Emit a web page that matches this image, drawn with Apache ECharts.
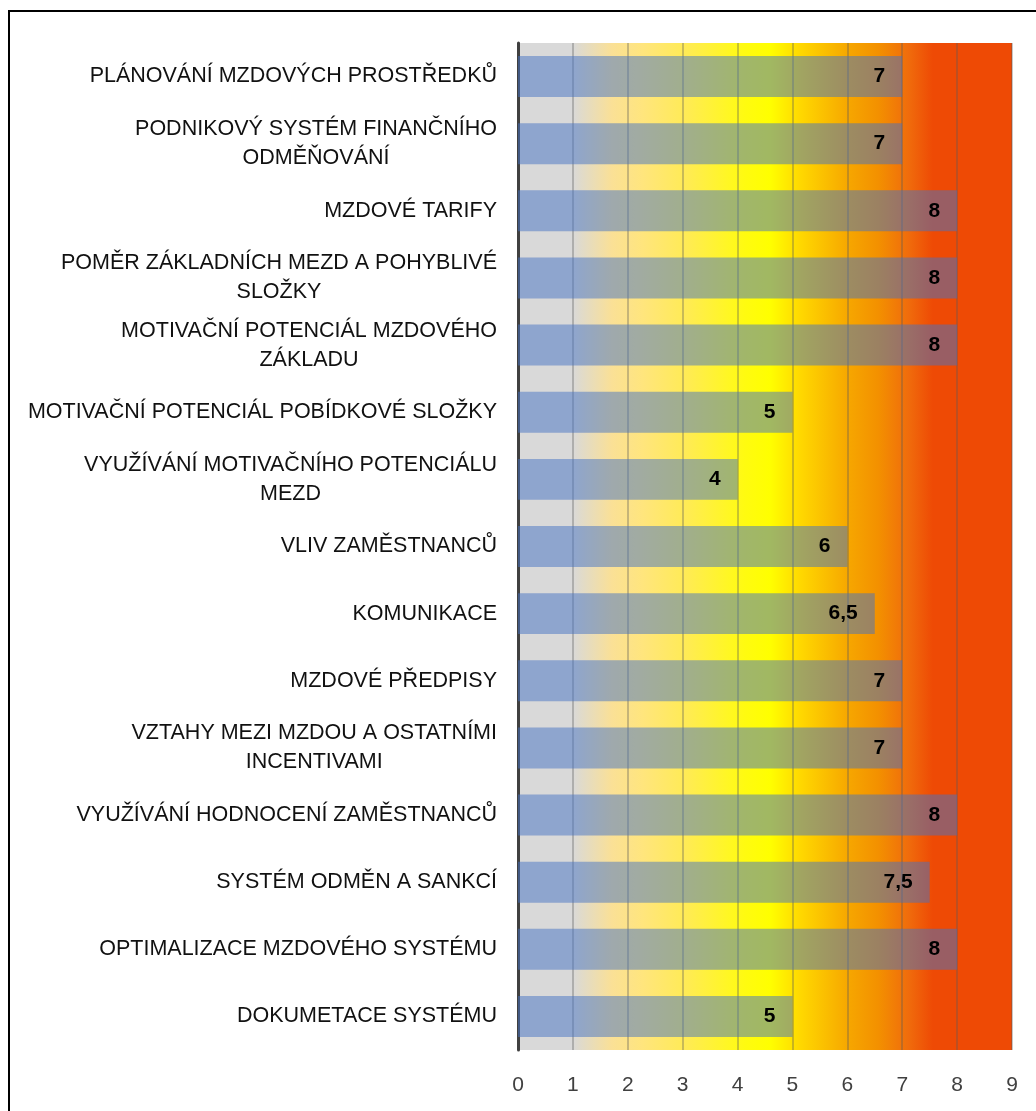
<!DOCTYPE html>
<html>
<head>
    <meta charset="utf-8">
    <script src="https://cdn.jsdelivr.net/npm/echarts@6/dist/echarts.min.js"></script>
    <style>
        body { margin: 0; background: #fff; }
    </style>
</head>
<body>
    <div id="main" style="width: 1036px;height:1111px;"></div>
    <script type="text/javascript">
        // kategorie (shora dolů)
        var categories = [
            'PLÁNOVÁNÍ MZDOVÝCH PROSTŘEDKŮ',
            'PODNIKOVÝ SYSTÉM FINANČNÍHO\nODMĚŇOVÁNÍ',
            'MZDOVÉ TARIFY',
            'POMĚR ZÁKLADNÍCH MEZD A POHYBLIVÉ\nSLOŽKY',
            'MOTIVAČNÍ POTENCIÁL MZDOVÉHO\nZÁKLADU',
            'MOTIVAČNÍ POTENCIÁL POBÍDKOVÉ SLOŽKY',
            'VYUŽÍVÁNÍ MOTIVAČNÍHO POTENCIÁLU\nMEZD',
            'VLIV ZAMĚSTNANCŮ',
            'KOMUNIKACE',
            'MZDOVÉ PŘEDPISY',
            'VZTAHY MEZI MZDOU A OSTATNÍMI\nINCENTIVAMI',
            'VYUŽÍVÁNÍ HODNOCENÍ ZAMĚSTNANCŮ',
            'SYSTÉM ODMĚN A SANKCÍ',
            'OPTIMALIZACE MZDOVÉHO SYSTÉMU',
            'DOKUMETACE SYSTÉMU'
        ];
        var hodnoty = [7, 7, 8, 8, 8, 5, 4, 6, 6.5, 7, 7, 8, 7.5, 8, 5];
        var osaX = [0, 1, 2, 3, 4, 5, 6, 7, 8, 9];

        var font = '"Liberation Sans", Arial, sans-serif';
        var myChart = echarts.init(document.getElementById('main'));

        myChart.setOption({
            animation: false,
            graphic: [{
                type: 'rect',
                shape: { x: 9, y: 11, width: 1100, height: 1200 },
                style: { fill: 'none', stroke: '#000', lineWidth: 2 },
                z: 100
            }],
            grid: {
                left: 518, right: 24, top: 43, bottom: 61,
                show: true,
                borderWidth: 0,
                backgroundColor: {
                    type: 'linear', x: 0, y: 0, x2: 1, y2: 0,
                    colorStops: [
                        { offset: 0, color: '#d9d9d9' },
                        { offset: 0.11, color: '#d9d9d9' },
                        { offset: 0.19, color: '#fae096' },
                        { offset: 0.25, color: '#ffe57e' },
                        { offset: 0.34, color: '#ffeb55' },
                        { offset: 0.46, color: '#fffb10' },
                        { offset: 0.51, color: '#ffff00' },
                        { offset: 0.57, color: '#ffd900' },
                        { offset: 0.67, color: '#f6a600' },
                        { offset: 0.73, color: '#f39000' },
                        { offset: 0.79, color: '#f06c0c' },
                        { offset: 0.84, color: '#ee4a05' },
                        { offset: 1, color: '#ee4a05' }
                    ]
                }
            },
            xAxis: {
                type: 'value',
                min: 0, max: 9, interval: 1,
                axisLine: { show: false },
                axisTick: { show: false },
                axisLabel: {
                    fontFamily: font, fontSize: 21, color: '#404040', margin: 25,
                    formatter: function (v) { return osaX.indexOf(v) >= 0 ? String(v) : ''; }
                },
                splitLine: { show: true, lineStyle: { color: 'rgba(90,90,90,0.45)', width: 1.5 } }
            },
            yAxis: {
                type: 'category',
                inverse: true,
                data: categories,
                axisLine: { show: true, lineStyle: { color: '#404040', width: 3 } },
                axisTick: { show: false },
                axisLabel: {
                    margin: 21,
                    align: 'right',
                    formatter: function (v) {
                        return v.split('\n').map(function (s) { return '{c|' + s + '}'; }).join('\n');
                    },
                    rich: {
                        c: { align: 'center', fontFamily: font, fontSize: 21.5, lineHeight: 29, color: '#111' }
                    }
                }
            },
            series: [{
                type: 'bar',
                data: hodnoty,
                barCategoryGap: '39%',
                itemStyle: { color: 'rgba(68,114,196,0.5)' },
                label: {
                    show: true,
                    position: 'insideRight',
                    distance: 17,
                    fontFamily: font, fontSize: 21, fontWeight: 'bold', color: '#000',
                    formatter: function (p) { return String(p.value).replace('.', ','); }
                }
            }]
        });
    </script>
</body>
</html>
